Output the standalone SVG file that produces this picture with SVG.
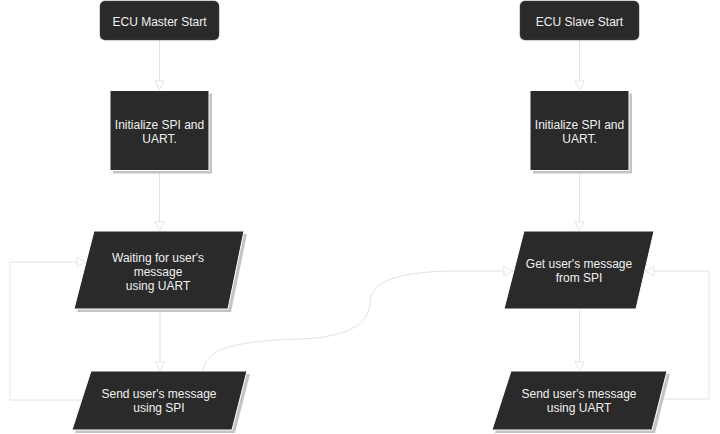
<svg xmlns="http://www.w3.org/2000/svg" width="720" height="434" viewBox="0 0 720 434">
<style>
.n{fill:#2a2a2a}
.p{fill:#2a2a2a;stroke:#ffffff;stroke-width:1}
.sh{fill:#c4c4c4}
.t{font-family:"Liberation Sans",Arial,sans-serif;font-size:12px;fill:#f0f0f0;text-anchor:middle}
.e{fill:none;stroke:#e2e2e2;stroke-width:1;marker-end:url(#arr)}
</style>
<defs>
<marker id="arr" markerUnits="userSpaceOnUse" markerWidth="11" markerHeight="11" refX="10" refY="5" orient="auto" viewBox="-1 -1 12 12">
<path d="M0,0 L10,5 L0,10 Z" fill="#ffffff" stroke="#e2e2e2" stroke-width="1"/>
</marker>
</defs>
<rect width="720" height="434" fill="#ffffff"/>
<g id="connectors">
<path class="e" d="M159.5,40 L159.5,90"/>
<path class="e" d="M159.5,170 L159.5,231"/>
<path class="e" d="M160,309 L160,371"/>
<path class="e" d="M81,400 L10,400 L10,262 L86,262"/>
<path class="e" d="M203,371 C206,350 230,341 300,339 C355,337 370,320 370,302 C372,282 395,271 460,271 L513,271"/>
<path class="e" d="M579.5,40 L579.5,90"/>
<path class="e" d="M579.5,170 L579.5,231"/>
<path class="e" d="M579.5,309 L579.5,371"/>
<path class="e" d="M660,399 L709,399 L709,271 L645,271"/>
</g>
<g id="master-start">
<rect class="n" x="100" y="1" width="119" height="39" rx="5" ry="5" stroke="#444" stroke-width="0.5"/>
<text class="t" x="159.5" y="25.5">ECU Master Start</text>
</g>
<g id="master-init">
<rect class="sh" x="113" y="93.5" width="99" height="80"/>
<rect class="p" x="110" y="90.5" width="99" height="80"/>
<text class="t" x="159.5" y="128.5">Initialize SPI and</text>
<text class="t" x="159.5" y="142.5">UART.</text>
</g>
<g id="master-wait">
<polygon class="sh" points="97,234 247,234 231,312 77,312"/>
<polygon class="p" points="94,231 244,231 228,309 74,309"/>
<text class="t" x="158" y="262">Waiting for user's</text>
<text class="t" x="158" y="276">message</text>
<text class="t" x="158" y="290">using UART</text>
</g>
<g id="master-send">
<polygon class="sh" points="94,374 250,374 235,433 75,433"/>
<polygon class="p" points="91,371 247,371 232,430 72,430"/>
<text class="t" x="159" y="397.5">Send user's message</text>
<text class="t" x="159" y="411.5">using SPI</text>
</g>
<g id="slave-start">
<rect class="n" x="520" y="1" width="119" height="39" rx="5" ry="5" stroke="#444" stroke-width="0.5"/>
<text class="t" x="579.5" y="25.5">ECU Slave Start</text>
</g>
<g id="slave-init">
<rect class="sh" x="533" y="93.5" width="99" height="80"/>
<rect class="p" x="530" y="90.5" width="99" height="80"/>
<text class="t" x="579.5" y="128.5">Initialize SPI and</text>
<text class="t" x="579.5" y="142.5">UART.</text>
</g>
<g id="slave-get">
<polygon class="p" points="524,231 654,231 636,309 504,309"/>
<text class="t" x="579" y="268">Get user's message</text>
<text class="t" x="579" y="282">from SPI</text>
</g>
<g id="slave-send">
<polygon class="sh" points="514,374 670,374 655,433 495,433"/>
<polygon class="p" points="511,371 667,371 652,430 492,430"/>
<text class="t" x="579" y="397.5">Send user's message</text>
<text class="t" x="579" y="411.5">using UART</text>
</g>
</svg>
